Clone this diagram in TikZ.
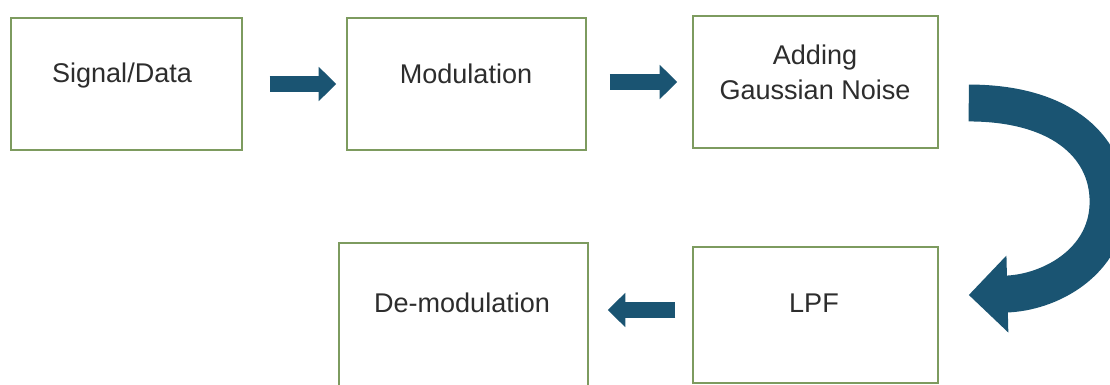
\documentclass[tikz,border=0pt]{standalone}
\usepackage{fontspec}
\setmainfont{Liberation Sans}
\usetikzlibrary{arrows.meta}
\definecolor{boxline}{RGB}{125,155,95}
\definecolor{arrowblue}{RGB}{26,84,114}
\definecolor{txtgray}{RGB}{45,45,45}
\def\pxl{0.02cm}
\tikzset{
  blockbox/.style={draw=boxline, line width=0.85pt, fill=white, rectangle, inner sep=0pt},
  lbl/.style={text=txtgray, font=\fontsize{15.4}{19.8}\selectfont, align=center, inner sep=0pt},
  flowarrow/.style={draw=arrowblue, line width=9.5pt, -{Triangle[width=19pt,length=10pt]}},
  bigarrow/.style={draw=arrowblue, line width=21pt, -{Triangle[width=42.5pt,length=22pt]}}
}
\begin{document}
\begin{tikzpicture}[x=0.02cm,y=-0.02cm]
\useasboundingbox (0,0) rectangle (1110,385);
\clip (0,0) rectangle (1110,385);
% boxes
\node[blockbox, minimum width=231*\pxl, minimum height=132*\pxl] (b1) at (126.5,84) {};
\node[blockbox, minimum width=239*\pxl, minimum height=132*\pxl] (b2) at (466.5,84) {};
\node[blockbox, minimum width=245*\pxl, minimum height=132*\pxl] (b3) at (815.5,82) {};
\node[blockbox, minimum width=245*\pxl, minimum height=136*\pxl] (b4) at (815.5,315) {};
\node[blockbox, minimum width=249*\pxl, minimum height=150*\pxl] (b5) at (463.5,318) {};
% texts
\node[lbl, anchor=base] (t1) at (122,83) {Signal/Data};
\node[lbl, anchor=base] (t2) at (466,84) {Modulation};
\node[lbl] (t3) at (815,72) {Adding\\Gaussian Noise};
\node[lbl, anchor=base] (t4) at (814,313) {LPF};
\node[lbl, anchor=base] (t5) at (462,313) {De-modulation};
% straight arrows
\draw[flowarrow, shorten <=27*\pxl, shorten >=10*\pxl] (b1.east) -- (b2.west);
\draw[flowarrow, shorten <=23*\pxl, shorten >=15*\pxl] (b2.east |- b3.east) -- (b3.west);
\draw[flowarrow, shorten <=17*\pxl, shorten >=19*\pxl] (b4.west |- 0,310) -- (b5.east |- 0,310);
% curved arrow
\coordinate (cs) at ([shift={(30,21)}]b3.east);
\coordinate (ce) at ([shift={(30,-20)}]b4.east);
\draw[bigarrow] (cs) .. controls (1065,103) and (1110,150) .. (1108,205)
                     .. controls (1106,262) and (1050,293) .. (ce);
\end{tikzpicture}
\end{document}
